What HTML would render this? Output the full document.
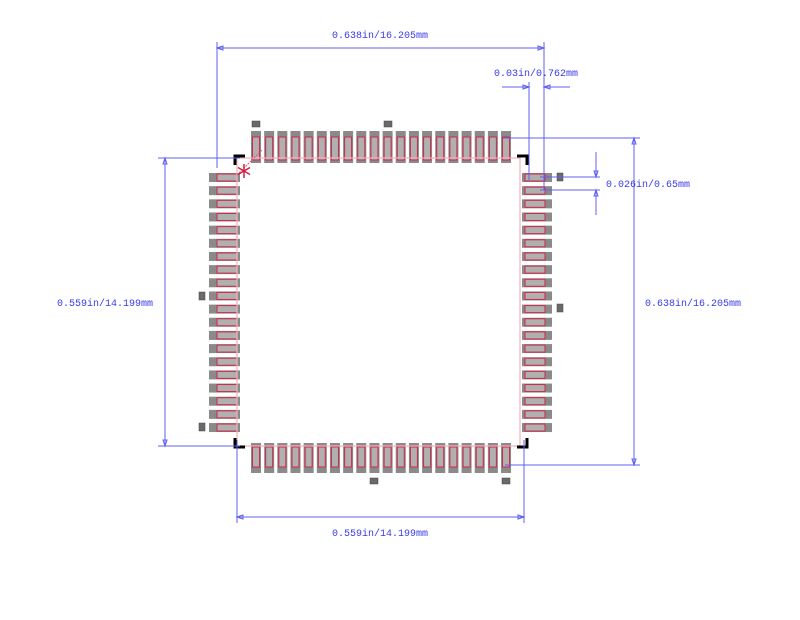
<!DOCTYPE html>
<html><head><meta charset="utf-8"><style>
html,body{margin:0;padding:0;background:#fff;width:800px;height:620px;overflow:hidden}
svg text{font-family:"Liberation Mono",monospace;font-size:10px;fill:#3a3ae8}
</style></head><body>
<svg id="s" width="800" height="620" xmlns="http://www.w3.org/2000/svg">
<g id="pads"></g>
<g fill="none" stroke="#f4b0be" stroke-width="1.2">
<rect x="237" y="158" width="283" height="288"/>
</g>
<line x1="237" y1="175" x2="262" y2="150" stroke="#e05070" stroke-width="1" stroke-dasharray="2,1"/>
<g stroke="#d02040" stroke-width="1.5">
<line x1="244" y1="164" x2="244" y2="178"/>
<line x1="238" y1="167.5" x2="250" y2="174.5"/>
<line x1="238" y1="174.5" x2="250" y2="167.5"/>
</g>
<g stroke="#000" stroke-width="3" fill="none">
<path d="M235 165 V156 H245"/><path d="M517 156 H527 V165"/>
<path d="M235 438 V447 H245"/><path d="M517 447 H527 V438"/>
</g>
<g fill="#6a6a6a" stroke="#444" stroke-width="0.5">
<rect x="252" y="121" width="8" height="6"/><rect x="384" y="121" width="8" height="6"/>
<rect x="557" y="173" width="6" height="8"/><rect x="557" y="304" width="6" height="8"/>
<rect x="199" y="292" width="6" height="8"/><rect x="199" y="423" width="6" height="8"/>
<rect x="370" y="478" width="8" height="6"/><rect x="502" y="478" width="8" height="6"/>
</g>
<g stroke="#6060f0" stroke-width="1" fill="none">
<line x1="217" y1="48" x2="544" y2="48"/>
<line x1="217" y1="42" x2="217" y2="168"/>
<line x1="544" y1="42" x2="544" y2="190"/>
<line x1="634" y1="138" x2="634" y2="465"/>
<line x1="503" y1="138" x2="640" y2="138"/>
<line x1="505" y1="465" x2="640" y2="465"/>
<line x1="165" y1="158" x2="165" y2="446"/>
<line x1="158" y1="158" x2="240" y2="158"/>
<line x1="158" y1="446" x2="240" y2="446"/>
<line x1="237" y1="517" x2="524" y2="517"/>
<line x1="237" y1="440" x2="237" y2="523"/>
<line x1="524" y1="440" x2="524" y2="523"/>
<line x1="529" y1="82" x2="529" y2="180"/>
<line x1="502" y1="87" x2="529" y2="87"/>
<line x1="544" y1="87" x2="570" y2="87"/>
<line x1="596" y1="152" x2="596" y2="177"/>
<line x1="596" y1="190" x2="596" y2="215"/>
<line x1="540" y1="177" x2="600" y2="177"/>
<line x1="540" y1="190" x2="600" y2="190"/>
<path d="M217 48 l6 -2 v4z M544 48 l-6 -2 v4z M634 138 l-2 6 h4z M634 465 l-2 -6 h4z M165 158 l-2 6 h4z M165 446 l-2 -6 h4z M237 517 l6 -2 v4z M524 517 l-6 -2 v4z M529 87 l-6 -2 v4z M544 87 l6 -2 v4z M596 177 l-2 -6 h4z M596 190 l-2 6 h4z"/>
</g>
<text x="332" y="38">0.638in/16.205mm</text>
<text x="494" y="76">0.03in/0.762mm</text>
<text x="606" y="187">0.026in/0.65mm</text>
<text x="645" y="306">0.638in/16.205mm</text>
<text x="57" y="306">0.559in/14.199mm</text>
<text x="332" y="536">0.559in/14.199mm</text>
</svg>
<script>
var g=document.getElementById('pads'),h='';
var p=13.16;
function r(x,y,w,hh,f,s){h+='<rect x="'+x+'" y="'+y+'" width="'+w+'" height="'+hh+'" fill="'+f+'"'+(s?' stroke="'+s+'" stroke-width="1"':'')+'/>';}
for(var i=0;i<20;i++){
 var x=251+i*p;
 r(x,131,10,32,'#8a8a8a');r(x+1.5,137,7,23,'#b0b0b0','#d02848');
 r(x,443,10,30,'#8a8a8a');r(x+1.5,447,7,20,'#b0b0b0','#d02848');
 var y=173+i*p;
 r(209,y,31,9,'#8a8a8a');r(217,y+1,20,7,'#b0b0b0','#d02848');
 r(522,y,30,9,'#8a8a8a');r(525,y+1,20,7,'#b0b0b0','#d02848');
}
g.innerHTML=h;
</script>
</body></html>
